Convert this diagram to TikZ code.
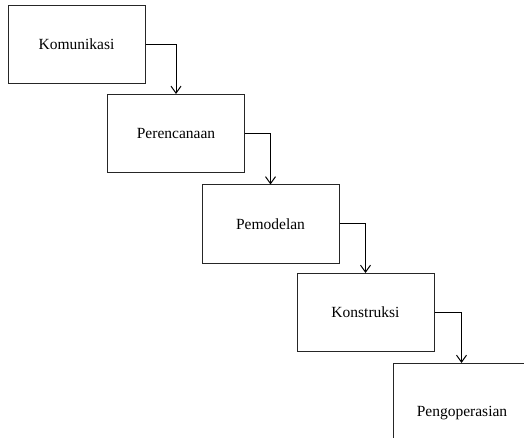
\documentclass[tikz,border=0pt]{standalone}
\usepackage{fontspec}
\setmainfont{Liberation Serif}
\usetikzlibrary{arrows.meta}
\begin{document}
\begin{tikzpicture}[x=1pt,y=-1pt,
  stage/.style={draw=black!85,line width=1pt,minimum width=137pt,minimum height=78pt,inner sep=0pt,font=\fontsize{15.5}{18}\selectfont},
  flow/.style={draw=black,line width=1pt,-{Straight Barb[length=7pt,width=10pt,line width=1pt]}}]
\useasboundingbox (0,0) rectangle (524,438);
\fill[white] (0,0) rectangle (524,438);
\begin{scope}
\clip (-5,-5) rectangle (524,438);
\node[stage] (b1) at (76.5,44.5) {Komunikasi};
\node[stage] (b2) at (176,133.5) {Perencanaan};
\node[stage] (b3) at (270.5,224) {Pemodelan};
\node[stage] (b4) at (365.5,312.5) {Konstruksi};
\node[stage,minimum width=177pt,minimum height=100pt,anchor=north west] (b5) at (393,363) {Pengoperasian\hspace*{40pt}};
\draw[flow] (b1.east) -| (b2.north);
\draw[flow] (b2.east) -| (b3.north);
\draw[flow] (b3.east) -| (b4.north);
\draw[flow] (b4.east) -| ([xshift=-20.5pt]b5.north);
\end{scope}
\end{tikzpicture}
\end{document}
